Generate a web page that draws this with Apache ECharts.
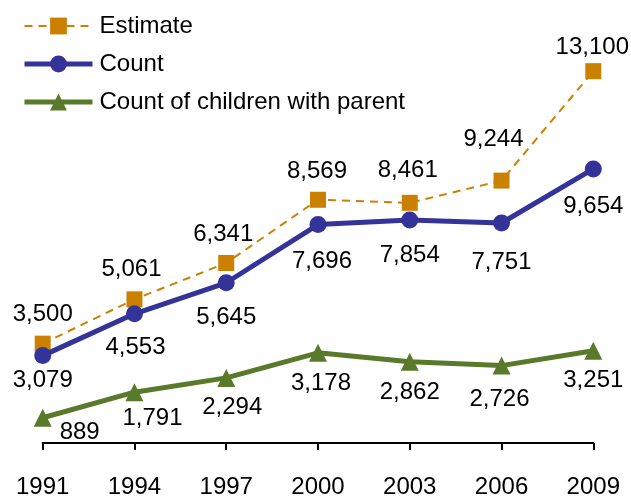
<!DOCTYPE html>
<html>
<head>
<meta charset="utf-8">
<script src="https://cdn.jsdelivr.net/npm/echarts@6/dist/echarts.min.js"></script>
<style>
html,body{margin:0;padding:0;background:#fff;}
#c{width:631px;height:499px;}
</style>
</head>
<body>
<div id="c"></div>
<script>
var years = ['1991','1994','1997','2000','2003','2006','2009'];
var estimate = [3500, 5061, 6341, 8569, 8461, 9244, 13100];
var count = [3079, 4553, 5645, 7696, 7854, 7751, 9654];
var children = [889, 1791, 2294, 3178, 2862, 2726, 3251];

// label offsets (layout only)
var estOff = [[0,-29],[-3,-30],[-3,-29],[-1,-28],[-2,-32],[-8,-41],[-1,-24]];
var cntOff = [[0,25],[1,34],[0,35],[4,37],[0,35],[0,39],[0,37]];
var chOff = [[37,15],[18,26],[6,29],[3,31],[0,31],[-2,34],[0,30]];

var FONT = 'Liberation Sans, Arial, sans-serif';

function build(vals, offs) {
  return vals.map(function (v, i) {
    return {
      value: v,
      label: { offset: offs[i] }
    };
  });
}

var labelBase = {
  show: true,
  position: 'inside',
  align: 'center',
  verticalAlign: 'middle',
  color: '#000',
  fontSize: 24,
  fontFamily: FONT,
  formatter: function (p) { return p.value.toLocaleString('en-US'); }
};

var chart = echarts.init(document.getElementById('c'), null, { renderer: 'canvas' });
chart.setOption({
  animation: false,
  backgroundColor: '#fff',
  grid: { left: 42.7, right: 37.7, top: 45.6, bottom: 51.6 },
  legend: {
    orient: 'vertical',
    left: 17,
    top: 9,
    itemWidth: 68,
    itemHeight: 21,
    itemGap: 14,
    textStyle: { fontSize: 24, fontFamily: FONT, color: '#000', padding: [0, 0, 0, 2] },
    data: [
      { name: 'Estimate', lineStyle: { width: 2, type: [8, 6] } },
      { name: 'Count', lineStyle: { width: 5 } },
      { name: 'Count of children with parent', lineStyle: { width: 5 } }
    ]
  },
  xAxis: {
    type: 'category',
    data: years,
    boundaryGap: false,
    axisLine: { lineStyle: { color: '#000', width: 2 } },
    axisTick: { show: true, length: 7, lineStyle: { color: '#000', width: 2 } },
    axisLabel: { color: '#000', fontSize: 24, fontFamily: FONT, margin: 32 },
    splitLine: { show: false }
  },
  yAxis: {
    type: 'value',
    min: 0,
    max: 14000,
    show: false,
    splitLine: { show: false }
  },
  series: [
    {
      name: 'Estimate',
      type: 'line',
      data: build(estimate, estOff),
      symbol: 'rect',
      symbolSize: 16,
      itemStyle: { color: '#CC8000' },
      lineStyle: { color: '#CC8000', width: 2, type: [8, 6] },
      label: labelBase,
      z: 3
    },
    {
      name: 'Count',
      type: 'line',
      data: build(count, cntOff),
      symbol: 'circle',
      symbolSize: 17,
      itemStyle: { color: '#333399' },
      lineStyle: { color: '#333399', width: 5 },
      label: labelBase,
      z: 4
    },
    {
      name: 'Count of children with parent',
      type: 'line',
      data: build(children, chOff),
      symbol: 'triangle',
      symbolSize: 18,
      itemStyle: { color: '#587A2A' },
      lineStyle: { color: '#587A2A', width: 5 },
      label: labelBase,
      z: 2
    }
  ]
});
</script>
</body>
</html>
